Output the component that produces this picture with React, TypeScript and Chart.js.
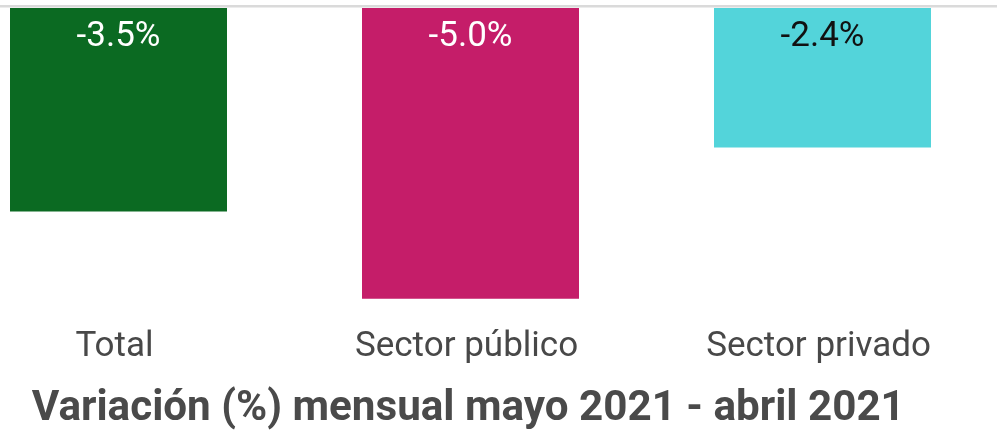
import React, { useEffect, useRef } from "react";
import { Chart, registerables } from "chart.js";

Chart.register(...registerables);

const categories = ["Total", "Sector público", "Sector privado"];
const values = [-3.5, -5.0, -2.4];
const valueLabels = ["-3.5%", "-5.0%", "-2.4%"];
const barColors = ["#0b6a22", "#c51d69", "#53d4da"];
const labelColors = ["#ffffff", "#ffffff", "#111111"];
const axisTitle = "Variación (%) mensual mayo 2021 - abril 2021";

const topLinePlugin = {
  id: "topLine",
  beforeDatasetsDraw(chart: any) {
    const { ctx, chartArea, width } = chart;
    ctx.save();
    ctx.fillStyle = "#dadada";
    ctx.fillRect(0, chartArea.top - 3, width, 2.5);
    ctx.restore();
  },
};

const valueLabelPlugin = {
  id: "valueLabels",
  afterDatasetsDraw(chart: any) {
    const { ctx } = chart;
    const meta = chart.getDatasetMeta(0);
    ctx.save();
    ctx.font = "35px Roboto";
    ctx.textAlign = "center";
    ctx.textBaseline = "alphabetic";
    meta.data.forEach((bar: any, i: number) => {
      ctx.fillStyle = labelColors[i];
      ctx.fillText(valueLabels[i], bar.x, bar.base + 38);
    });
    ctx.restore();
  },
};

// Axis title drawn without Chart.js's maxWidth squeeze (the category axis is narrower than the title)
const bottomTitlePlugin = {
  id: "bottomTitle",
  afterDraw(chart: any) {
    const { ctx, chartArea, height } = chart;
    ctx.save();
    ctx.font = "bold 42.2px Roboto";
    ctx.fillStyle = "#4a4a4a";
    ctx.textAlign = "center";
    ctx.textBaseline = "alphabetic";
    ctx.fillText(axisTitle, (chartArea.left + chartArea.right) / 2 - 2.2, height - 10);
    ctx.restore();
  },
};

export default function App() {
  const ref = useRef<HTMLCanvasElement>(null);
  useEffect(() => {
    if (!ref.current) return;
    const chart = new Chart(ref.current, {
      type: "bar",
      data: {
        labels: categories,
        datasets: [
          {
            data: values,
            backgroundColor: barColors,
            borderWidth: 0,
            categoryPercentage: 1,
            barPercentage: 217 / 352,
            clip: false as any,
          },
        ],
      },
      options: {
        responsive: false,
        animation: false,
        layout: { padding: { left: 118.5, right: 174.5, top: 8, bottom: 33.5 } },
        plugins: { legend: { display: false }, tooltip: { enabled: false } },
        scales: {
          x: {
            type: "category",
            offset: false,
            grid: { display: false, drawTicks: false },
            border: { display: false },
            ticks: {
              color: "#484848",
              font: { family: "Roboto", size: 35, lineHeight: 1.2 },
              padding: 27.9,
              labelOffset: -4,
              maxRotation: 0,
              autoSkip: false,
            },
          },
          y: {
            display: false,
            min: -5,
            max: 0,
          },
        },
      },
      plugins: [topLinePlugin, valueLabelPlugin, bottomTitlePlugin],
    });
    return () => chart.destroy();
  }, []);
  return (
    <div style={{ position: "fixed", left: 0, top: 0, width: 997, height: 430, background: "#fff" }}>
      <canvas ref={ref} width={997} height={430} />
    </div>
  );
}
